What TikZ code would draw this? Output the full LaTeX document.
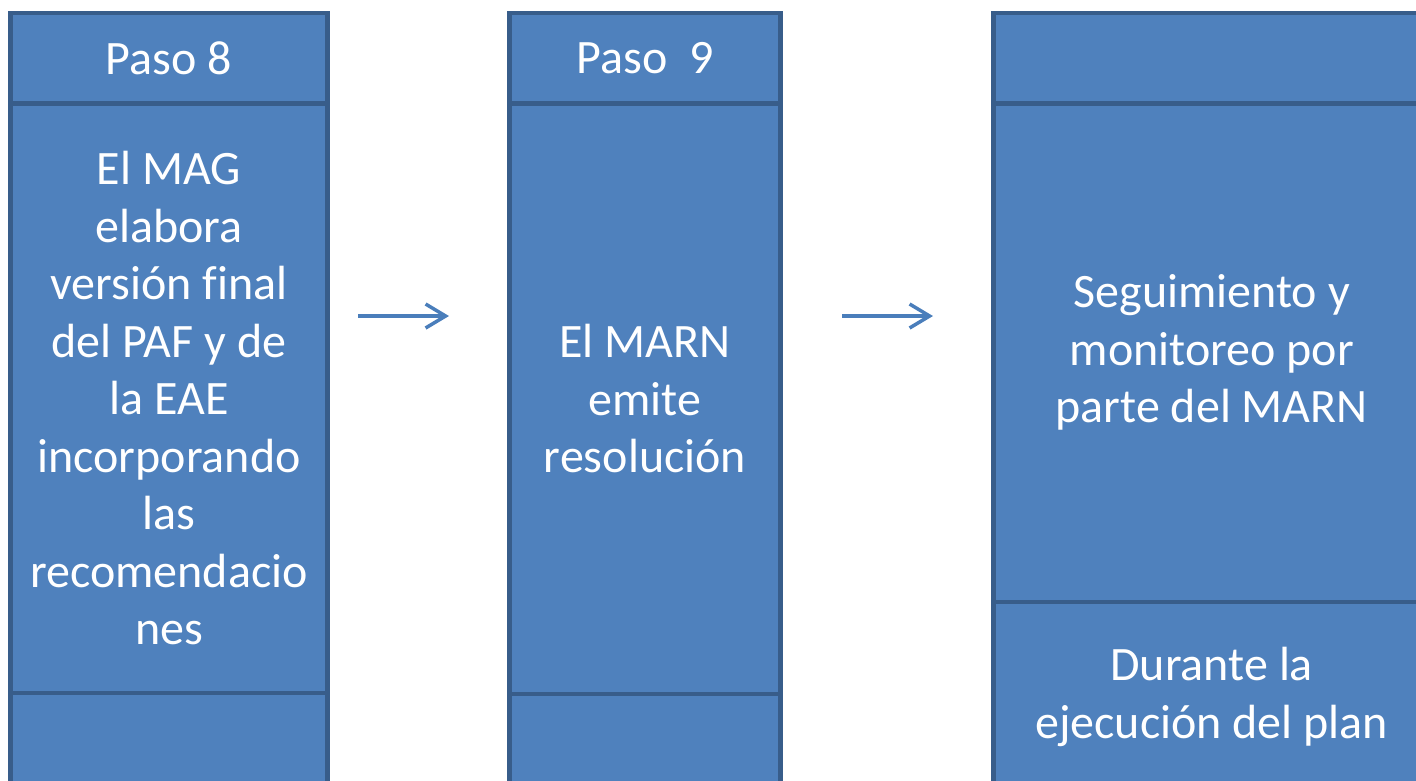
\documentclass[tikz,border=0pt]{standalone}
\usepackage{fontspec}
\setmainfont{Carlito}[Ligatures=NoCommon]
\usetikzlibrary{arrows.meta}
\definecolor{cellfill}{HTML}{4F81BD}
\definecolor{celldraw}{HTML}{385D8A}
\definecolor{arrowcol}{HTML}{4A7EBB}
\tikzset{
  cell/.style={draw=celldraw, fill=cellfill, line width=4.5pt, rectangle,
    inner sep=0pt, outer sep=0pt, text=white, align=center,
    font=\fontsize{48}{57.5}\selectfont},
  flow/.style={draw=arrowcol, line width=3.5pt,
    -{Straight Barb[length=20pt,width=24pt,line width=3.5pt]}}
}
\begin{document}
\begin{tikzpicture}[x=1pt,y=-1pt]
\useasboundingbox (0,0) rectangle (1416,780);
\clip (0,0) rectangle (1416,780);
% column 1
\node[cell, minimum width=317pt, minimum height=92pt] (h1) at (169,739) {};
\node[cell, minimum width=317pt, minimum height=90.5pt] (t1) at (169,58.25) {Paso 8};
\node[cell, minimum width=317pt, minimum height=589.5pt] (b1) at (169,398.25)
  {El MAG\\elabora\\versión final\\del PAF y de\\la EAE\\incorporando\\las\\recomendacio\\nes};
% column 2
\node[cell, minimum width=271pt, minimum height=92pt] (h2) at (645,740) {};
\node[cell, minimum width=271pt, minimum height=90.5pt] (t2) at (645,58.25) {Paso\ \ 9};
\node[cell, minimum width=271pt, minimum height=590.5pt] (b2) at (645,398.75)
  {El MARN\\emite\\resolución};
% column 3
\node[cell, minimum width=436.5pt, minimum height=190pt] (h3) at (1211.75,697)
  {Durante la\\ejecución del plan};
\node[cell, minimum width=436.5pt, minimum height=90.5pt] (t3) at (1211.75,58.25) {};
\node[cell, minimum width=436.5pt, minimum height=498.5pt] (b3) at (1211.75,352.75)
  {Seguimiento y\\monitoreo por\\parte del MARN};
% arrows
\coordinate (a1s) at (358,316);
\coordinate (a1e) at (449,316);
\coordinate (a2s) at (842,316);
\coordinate (a2e) at (933,316);
\draw[flow] (a1s) -- (a1e);
\draw[flow] (a2s) -- (a2e);
\end{tikzpicture}
\end{document}
